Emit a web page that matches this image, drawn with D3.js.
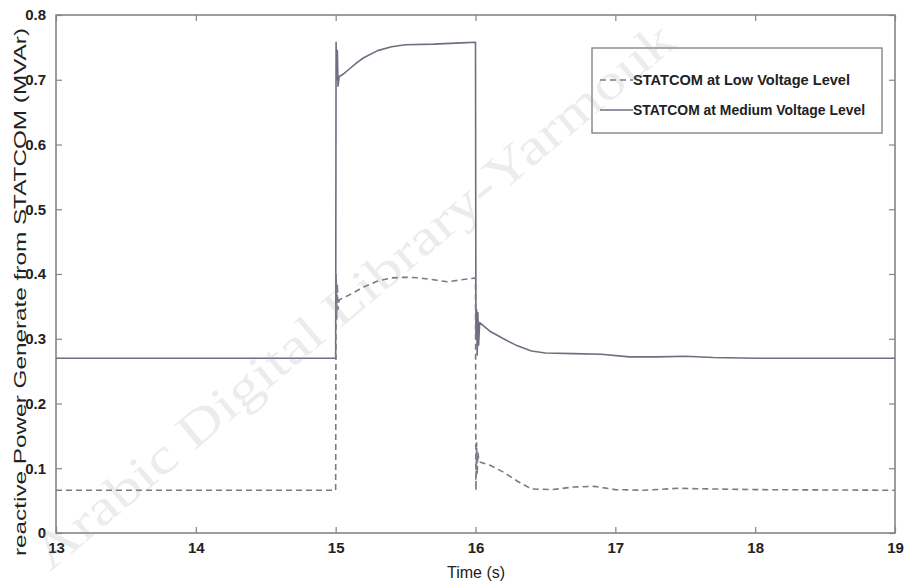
<!DOCTYPE html>
<html>
<head>
<meta charset="utf-8">
<script src="https://cdn.jsdelivr.net/npm/d3@7"></script>
<style>
  html, body { margin: 0; padding: 0; background: #fff; }
  svg { display: block; }
</style>
</head>
<body>
<svg id="chart" width="907" height="586"></svg>
<script>
// Reactive power delivered by the STATCOM during a 15 s – 16 s disturbance
const xTicks = [13, 14, 15, 16, 17, 18, 19];
const yTicks = [0, 0.1, 0.2, 0.3, 0.4, 0.5, 0.6, 0.7, 0.8];
const yTickLabels = ["0", "0.1", "0.2", "0.3", "0.4", "0.5", "0.6", "0.7", "0.8"];
const seriesNames = ["STATCOM at Low Voltage Level", "STATCOM at Medium Voltage Level"];

// STATCOM at Medium Voltage Level (solid)
const timeMedium = [13, 15.0, 15.003, 15.008, 15.012, 15.017, 15.025, 15.05, 15.1, 15.15, 15.2, 15.3, 15.4, 15.5, 15.7, 15.9, 16.0,
  16.003, 16.008, 16.012, 16.017, 16.022, 16.03, 16.1, 16.2, 16.3, 16.4, 16.5, 16.7, 16.9, 17.1, 17.3, 17.5, 17.7, 18, 19];
const valueMedium = [0.27, 0.27, 0.758, 0.70, 0.745, 0.69, 0.705, 0.708, 0.717, 0.726, 0.734, 0.745, 0.751, 0.754, 0.755, 0.757, 0.758,
  0.30, 0.345, 0.275, 0.34, 0.29, 0.325, 0.312, 0.300, 0.289, 0.281, 0.278, 0.277, 0.276, 0.272, 0.272, 0.273, 0.271, 0.27, 0.27];

// STATCOM at Low Voltage Level (dashed)
const timeLow = [13, 15.0, 15.003, 15.008, 15.012, 15.017, 15.025, 15.1, 15.2, 15.3, 15.4, 15.5, 15.6, 15.7, 15.8, 15.9, 16.0,
  16.003, 16.008, 16.012, 16.017, 16.025, 16.1, 16.2, 16.3, 16.4, 16.55, 16.7, 16.85, 17.0, 17.2, 17.45, 17.7, 18, 19];
const valueLow = [0.066, 0.066, 0.40, 0.33, 0.385, 0.345, 0.36, 0.368, 0.38, 0.389, 0.394, 0.395, 0.394, 0.391, 0.388, 0.391, 0.394,
  0.066, 0.14, 0.09, 0.125, 0.11, 0.105, 0.094, 0.08, 0.068, 0.067, 0.071, 0.072, 0.067, 0.066, 0.069, 0.068, 0.067, 0.066];

const svg = d3.select("#chart");
const plot = { left: 56, top: 15, right: 895, bottom: 533 };

const x = d3.scaleLinear().domain([13, 19]).range([plot.left, plot.right]);
const y = d3.scaleLinear().domain([0, 0.8]).range([plot.bottom, plot.top]);

const axisColor = "#858585";
const lineColor = "#6e6e80";
const tickFont = "'Liberation Sans Narrow', 'Liberation Sans', Arial, sans-serif";

// Plot frame
svg.append("rect")
  .attr("x", plot.left).attr("y", plot.top)
  .attr("width", plot.right - plot.left).attr("height", plot.bottom - plot.top)
  .attr("fill", "none").attr("stroke", axisColor).attr("stroke-width", 1.6);

// Inward ticks on all four sides
const tickLen = 6;
function styleAxis(g) {
  g.select(".domain").remove();
  g.selectAll(".tick line").attr("stroke", axisColor).attr("stroke-width", 1.2);
}
svg.append("g").attr("transform", `translate(0,${plot.bottom})`)
  .call(d3.axisBottom(x).tickValues(xTicks).tickSize(-tickLen).tickFormat(d3.format("d")).tickPadding(9))
  .call(styleAxis)
  .call(g => g.selectAll(".tick text")
    .attr("fill", "#222").attr("font-family", tickFont).attr("font-weight", "bold").attr("font-size", 15));
svg.append("g").attr("transform", `translate(0,${plot.top})`)
  .call(d3.axisTop(x).tickValues(xTicks).tickSize(-tickLen).tickFormat(""))
  .call(styleAxis);
svg.append("g").attr("transform", `translate(${plot.left},0)`)
  .call(d3.axisLeft(y).tickValues(yTicks).tickSize(-tickLen).tickPadding(10)
    .tickFormat((d, i) => yTickLabels[i]))
  .call(styleAxis)
  .call(g => g.selectAll(".tick text")
    .attr("fill", "#222").attr("font-family", tickFont).attr("font-weight", "bold").attr("font-size", 15));
svg.append("g").attr("transform", `translate(${plot.right},0)`)
  .call(d3.axisRight(y).tickValues(yTicks).tickSize(-tickLen).tickFormat(""))
  .call(styleAxis);

// Series lines
const line = d3.line().x(d => x(d[0])).y(d => y(d[1]));
const lowData = d3.zip(timeLow, valueLow);
const medData = d3.zip(timeMedium, valueMedium);

svg.append("path").datum(medData)
  .attr("d", line).attr("fill", "none")
  .attr("stroke", lineColor).attr("stroke-width", 1.6).attr("stroke-linejoin", "round");
svg.append("path").datum(lowData)
  .attr("d", line).attr("fill", "none")
  .attr("stroke", "#7a7a84").attr("stroke-width", 1.6).attr("stroke-dasharray", "6,4");

// Axis titles
svg.append("text")
  .attr("x", 476).attr("y", 578)
  .attr("text-anchor", "middle")
  .attr("font-family", "'Liberation Sans', Arial, sans-serif").attr("font-size", 16)
  .attr("fill", "#222")
  .text("Time (s)");

svg.append("text")
  .attr("transform", "translate(26,292) rotate(-90)")
  .attr("text-anchor", "middle")
  .attr("font-family", "'Liberation Sans', Arial, sans-serif").attr("font-size", 17)
  .attr("textLength", 528).attr("lengthAdjust", "spacingAndGlyphs")
  .attr("fill", "#222")
  .text("reactive Power Generate from STATCOM (MVAr)");

// Legend
const legend = svg.append("g");
legend.append("rect")
  .attr("x", 592).attr("y", 48).attr("width", 290).attr("height", 85)
  .attr("fill", "#fff").attr("stroke", axisColor).attr("stroke-width", 1.4);
const legendRows = [
  { name: seriesNames[0], dash: "6,4", y: 80, len: 217, color: "#7a7a84" },
  { name: seriesNames[1], dash: null, y: 110, len: 232, color: lineColor }
];
legendRows.forEach(r => {
  legend.append("line")
    .attr("x1", 600).attr("x2", 633).attr("y1", r.y).attr("y2", r.y)
    .attr("stroke", r.color).attr("stroke-width", 1.4)
    .attr("stroke-dasharray", r.dash);
  legend.append("text")
    .attr("x", 633).attr("y", r.y + 5)
    .attr("font-family", tickFont).attr("font-weight", "bold").attr("font-size", 14)
    .attr("textLength", r.len).attr("lengthAdjust", "spacingAndGlyphs")
    .attr("fill", "#222")
    .text(r.name);
});

// Faint library mark laid across the whole figure
svg.append("text")
  .attr("transform", "translate(50,572) rotate(-40)")
  .attr("font-family", "'Liberation Serif', 'Times New Roman', serif")
  .attr("font-size", 50)
  .attr("textLength", 820).attr("lengthAdjust", "spacingAndGlyphs")
  .attr("fill", "#a0a0a0").attr("fill-opacity", 0.2)
  .text("Arabic Digital Library-Yarmouk");
</script>
</body>
</html>
